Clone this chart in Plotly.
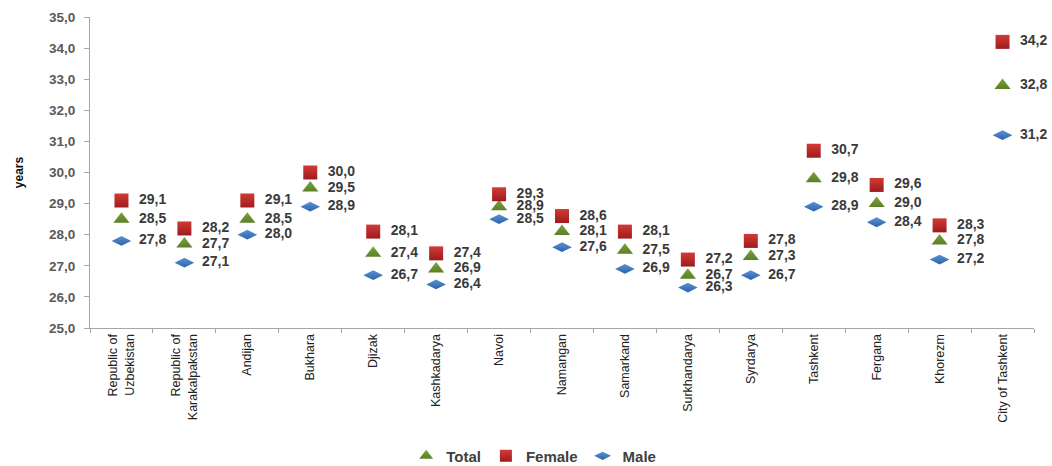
import plotly.graph_objects as go

regions = [
    "Republic of<br>Uzbekistan", "Republic of<br>Karakalpakstan", "Andijan", "Bukhara",
    "Djizak", "Kashkadarya", "Navoi", "Namangan", "Samarkand", "Surkhandarya",
    "Syrdarya", "Tashkent", "Fergana", "Khorezm", "City of Tashkent",
]
total = [28.5, 27.7, 28.5, 29.5, 27.4, 26.9, 28.9, 28.1, 27.5, 26.7, 27.3, 29.8, 29.0, 27.8, 32.8]
female = [29.1, 28.2, 29.1, 30.0, 28.1, 27.4, 29.3, 28.6, 28.1, 27.2, 27.8, 30.7, 29.6, 28.3, 34.2]
male = [27.8, 27.1, 28.0, 28.9, 26.7, 26.4, 28.5, 27.6, 26.9, 26.3, 26.7, 28.9, 28.4, 27.2, 31.2]

FONT = "Liberation Sans, Arial, sans-serif"
label_font = dict(family=FONT, size=14, color="#3a3a3a", weight="bold")


def fmt(v):
    # comma decimal, with a small gap before the value
    return "\u00a0\u00a0" + f"{v:.1f}".replace(".", ",")


series = [
    ("Total", total, dict(symbol="triangle-up", size=14, color="#7aa33a",
                          gradient=dict(type="vertical", color="#5c7f26"),
                          line=dict(width=0))),
    ("Female", female, dict(symbol="square", size=14, color="#d33a35",
                            gradient=dict(type="vertical", color="#9e1b1e"),
                            line=dict(width=0))),
    ("Male", male, dict(symbol="diamond-wide", size=14, color="#5a93d6",
                        gradient=dict(type="vertical", color="#2c62a8"),
                        line=dict(width=0))),
]

fig = go.Figure()
for name, vals, marker in series:
    fig.add_trace(go.Scatter(
        x=regions, y=vals, name=name, mode="markers+text",
        marker=marker,
        text=[fmt(v) for v in vals], textposition="middle right",
        textfont=label_font, cliponaxis=False,
    ))

fig.update_layout(
    width=1052, height=466,
    margin=dict(l=90, r=18, t=17, b=138, autoexpand=False),
    plot_bgcolor="white", paper_bgcolor="white",
    separators=",.",
    showlegend=True,
    legend=dict(orientation="h", x=0.47, xanchor="center", y=-0.465, yanchor="bottom",
                font=dict(family=FONT, size=15, color="#404040", weight="bold"),
                itemwidth=30, tracegroupgap=0, itemsizing="constant",
                bgcolor="rgba(0,0,0,0)"),
    font=dict(family=FONT),
)

fig.update_xaxes(
    type="category", tickangle=-90, showgrid=False,
    showline=True, linecolor="#a6a6a6", linewidth=1,
    ticks="outside", tickson="boundaries", ticklen=4, tickcolor="#a6a6a6",
    tickfont=dict(size=12.5, color="#222222"),
    range=[-0.5, 14.5], automargin=False,
)
fig.update_yaxes(
    range=[25, 35], dtick=1, tickformat=".1f", showgrid=False,
    showline=True, linecolor="#a6a6a6", linewidth=1,
    ticks="outside", ticklen=5, tickcolor="#a6a6a6",
    ticklabelstandoff=6,
    tickfont=dict(size=13.5, color="#595959", weight="bold"),
    title=dict(text="years", font=dict(size=12, color="#111111", weight="bold"), standoff=22),
    zeroline=False, automargin=False,
)

fig.write_html("out.html")
